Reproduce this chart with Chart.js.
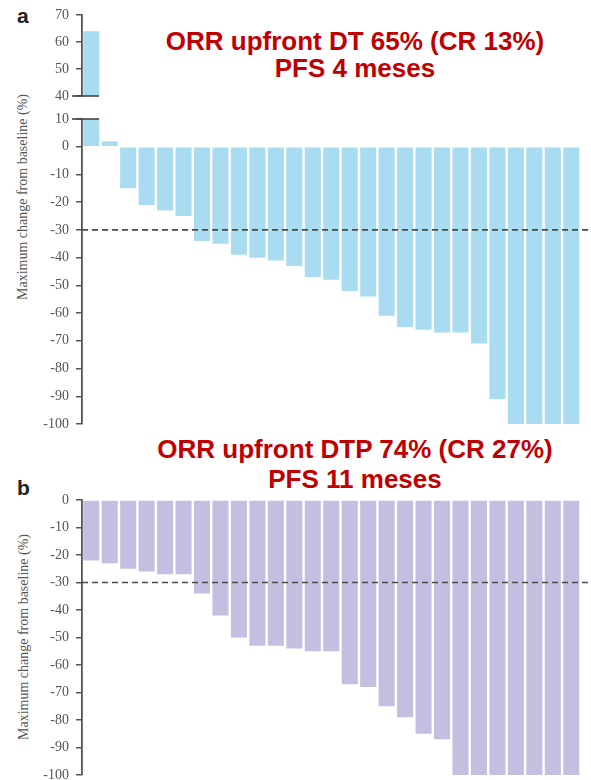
<!DOCTYPE html>
<html lang="en">
<head>
  <meta charset="UTF-8" />
  <title>Maximum change from baseline - DT vs DTP</title>
  <style>
    * { box-sizing: border-box; margin: 0; padding: 0; }
    html, body {
      width: 591px; height: 780px;
      overflow: hidden;
      background: #fff;
    }
    body { position: relative; font-family: 'Liberation Sans', Arial, sans-serif; }
    canvas { position: absolute; left: 0; }
    .headline {
      position: absolute; left: 0; width: 591px;
      padding-left: 119px;
      text-align: center;
      color: #c00000;
      font-weight: bold; font-size: 26px; line-height: 27px;
      white-space: nowrap;
    }
    .panel {
      position: absolute; left: 17px;
      font-weight: bold; font-size: 21px; line-height: 21px;
      color: #222;
    }
    .ytitle {
      position: absolute; width: 240px;
      text-align: center;
      font-family: 'Liberation Serif', 'Times New Roman', serif;
      font-size: 14px; line-height: 16px;
      color: #555;
      transform: rotate(-90deg);
      white-space: nowrap;
    }
  </style>
</head>
<body>
  <div class="panel" style="top:5px;">a</div>
  <div class="panel" style="top:477px;">b</div>

  <div class="headline" style="top:28px;">ORR upfront DT 65% (CR 13%)</div>
  <div class="headline" style="top:55px;">PFS 4 meses</div>
  <div class="headline" style="top:436px;">ORR upfront DTP 74% (CR 27%)</div>
  <div class="headline" style="top:466px;">PFS 11 meses</div>

  <div class="ytitle" style="left:-97px; top:189px;">Maximum change from baseline (%)</div>
  <div class="ytitle" style="left:-96px; top:629px;">Maximum change from baseline (%)</div>

  <!-- panel a is split in two canvases for the broken axis -->
  <canvas id="dtUpper" width="591" height="121" style="top:-1px;"></canvas>
  <canvas id="dtLower" width="591" height="340" style="top:100px;"></canvas>
  <canvas id="dtpChart" width="591" height="307" style="top:484px;"></canvas>

  <script src="https://cdn.jsdelivr.net/npm/chart.js"></script>
  <script>
    // best response per patient, % change from baseline
    const patients = Array.from({ length: 27 }, (_, i) => 'Pt ' + (i + 1));
    const changeDT = [64, 2, -15, -21, -23, -25, -34, -35, -39, -40, -41, -43, -47, -48,
                      -52, -54, -61, -65, -66, -67, -67, -71, -91, -100, -100, -100, -100];
    const changeDTP = [-22, -23, -25, -26, -27, -27, -34, -42, -50, -53, -53, -54, -55, -55,
                       -67, -68, -75, -79, -85, -87, -100, -100, -100, -100, -100, -100, -100];

    // axis ranges: panel a has a break between 10 and 40
    const upperRange = [40, 70];
    const lowerRange = [-100, 10];
    const dtpRange = [-100, 0];
    const tickStep = 10;
    const responseCutoff = -30;

    const axisColor = '#555';
    const tickFont = { family: "'Liberation Serif', 'Times New Roman', serif", size: 14 };

    // dashed line at the partial response cutoff, runs to the right edge
    const cutoffLine = {
      id: 'cutoffLine',
      afterDatasetsDraw(chart) {
        const { ctx, chartArea, scales } = chart;
        const y = scales.y.getPixelForValue(responseCutoff);
        if (y < chartArea.top || y > chartArea.bottom) return;
        ctx.save();
        ctx.strokeStyle = '#4a4a4a';
        ctx.lineWidth = 1.6;
        ctx.setLineDash([6, 4]);
        ctx.beginPath();
        ctx.moveTo(chartArea.left, y);
        ctx.lineTo(chart.width, y);
        ctx.stroke();
        ctx.restore();
      }
    };

    // short crossing mark where the axis is broken
    const breakMark = {
      id: 'breakMark',
      afterDraw(chart, args, opts) {
        if (opts.at === undefined) return;
        const { ctx, chartArea, scales } = chart;
        const y = scales.y.getPixelForValue(opts.at);
        ctx.save();
        ctx.strokeStyle = '#444';
        ctx.lineWidth = 1.6;
        ctx.beginPath();
        ctx.moveTo(chartArea.left - 10, y);
        ctx.lineTo(chartArea.left + 17, y);
        ctx.stroke();
        ctx.restore();
      }
    };

    // pad = [top, bottom]; both must exceed half a tick label + tick padding
    function makeChart(id, values, color, range, pad, breakAt) {
      return new Chart(document.getElementById(id), {
        type: 'bar',
        data: {
          labels: patients,
          datasets: [{
            data: values,
            backgroundColor: color,
            barPercentage: 0.87,
            categoryPercentage: 1,
            clip: 0
          }]
        },
        options: {
          responsive: false,
          animation: false,
          layout: { padding: { left: 0, right: 10.5, top: pad[0], bottom: pad[1] } },
          plugins: {
            legend: { display: false },
            tooltip: { enabled: false },
            breakMark: { at: breakAt }
          },
          scales: {
            x: { display: false },
            y: {
              min: range[0],
              max: range[1],
              afterFit(scale) { scale.width = 82; },
              ticks: { stepSize: tickStep, color: '#555', font: tickFont, padding: 7 },
              grid: { drawOnChartArea: false, tickLength: 6, color: axisColor, lineWidth: 1.5 },
              border: { display: true, color: axisColor, width: 1.8 }
            }
          }
        },
        plugins: [cutoffLine, breakMark]
      });
    }

    makeChart('dtUpper', changeDT, '#a9dcf1', upperRange, [16, 24], upperRange[0]);
    makeChart('dtLower', changeDT, '#a9dcf1', lowerRange, [19, 16], lowerRange[1]);
    makeChart('dtpChart', changeDTP, '#c4bfe0', dtpRange, [16, 16]);
  </script>
</body>
</html>
